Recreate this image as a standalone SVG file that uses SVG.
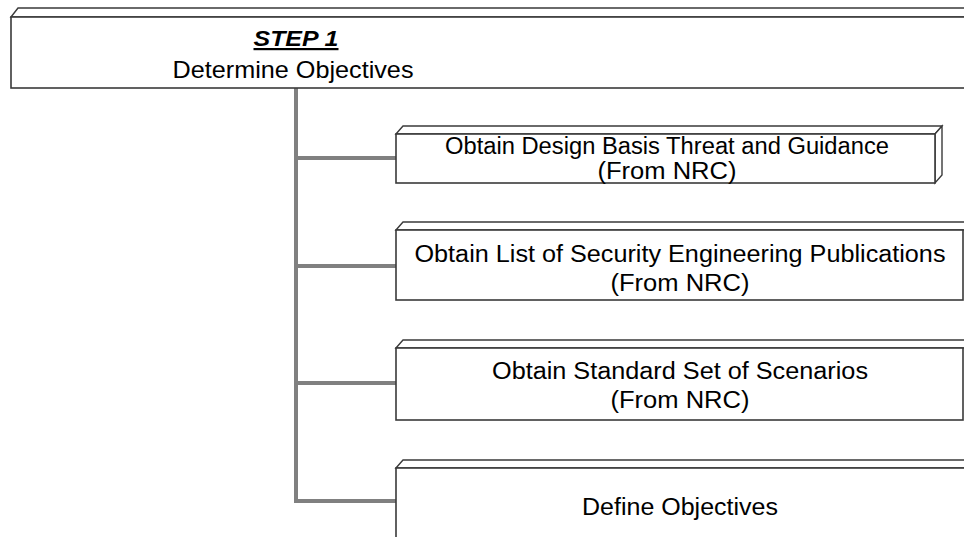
<svg xmlns="http://www.w3.org/2000/svg" width="964" height="537" viewBox="0 0 964 537">
  <style>
    .face { fill: #ffffff; stroke: #3a3a3a; stroke-width: 1.4; stroke-linejoin: miter; }
    .front { fill: #ffffff; stroke: #3a3a3a; stroke-width: 1.6; }
    .link { fill: none; stroke: #808080; stroke-width: 4; stroke-linejoin: miter; }
    .lbl { font-family: "Liberation Sans", Arial, sans-serif; font-size: 23px; fill: #000000; text-anchor: middle; }
    .head { font-weight: bold; font-style: italic; text-decoration: underline; font-size: 22px; }
    .big { font-size: 24px; }
  </style>

  <!-- connectors: trunk from the step box and branches to each task box -->
  <g id="connectors">
    <path class="link" d="M296 88 V501 H396"/>
    <path class="link" d="M296 158 H396"/>
    <path class="link" d="M296 266 H396"/>
    <path class="link" d="M296 383 H396"/>
  </g>

  <!-- step box -->
  <g id="step1">
    <polygon class="face" points="11,17 18,8 980,8 973,17"/>
    <rect class="front" x="11" y="17" width="962" height="71"/>
    <text class="lbl head" x="296" y="46" textLength="85" lengthAdjust="spacingAndGlyphs">STEP 1</text>
    <text class="lbl big" x="293" y="78" textLength="241" lengthAdjust="spacingAndGlyphs">Determine Objectives</text>
  </g>

  <g id="task-dbt">
    <polygon class="face" points="396,134 403,126 942,126 935,134"/>
    <polygon class="face" points="935,134 942,126 942,175 935,183"/>
    <rect class="front" x="396" y="134" width="539" height="49"/>
    <text class="lbl" x="667" y="154" textLength="444" lengthAdjust="spacingAndGlyphs">Obtain Design Basis Threat and Guidance</text>
    <text class="lbl" x="667" y="179" textLength="139" lengthAdjust="spacingAndGlyphs">(From NRC)</text>
  </g>

  <g id="task-publications">
    <polygon class="face" points="396,230 403,222 980,222 973,230"/>
    <rect class="front" x="396" y="230" width="567" height="70"/>
    <text class="lbl" x="680" y="262" textLength="531" lengthAdjust="spacingAndGlyphs">Obtain List of Security Engineering Publications</text>
    <text class="lbl" x="680" y="291" textLength="139" lengthAdjust="spacingAndGlyphs">(From NRC)</text>
  </g>

  <g id="task-scenarios">
    <polygon class="face" points="396,348 403,340 980,340 973,348"/>
    <rect class="front" x="396" y="348" width="567" height="72"/>
    <text class="lbl" x="680" y="379" textLength="376" lengthAdjust="spacingAndGlyphs">Obtain Standard Set of Scenarios</text>
    <text class="lbl" x="680" y="408" textLength="139" lengthAdjust="spacingAndGlyphs">(From NRC)</text>
  </g>

  <g id="task-define">
    <polygon class="face" points="396,468 403,460 980,460 973,468"/>
    <rect class="front" x="396" y="468" width="590" height="100"/>
    <text class="lbl" x="680" y="515" textLength="196" lengthAdjust="spacingAndGlyphs">Define Objectives</text>
  </g>
</svg>
